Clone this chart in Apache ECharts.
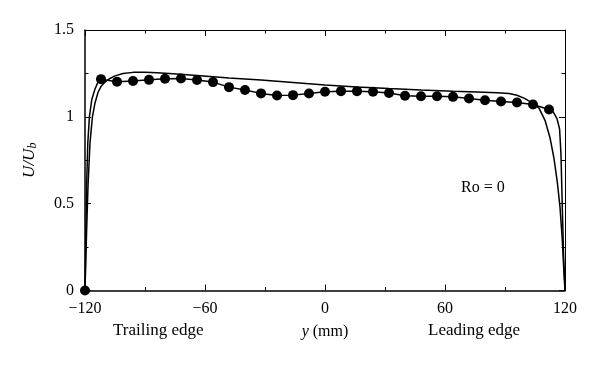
<!DOCTYPE html>
<html>
<head>
<meta charset="utf-8">
<script src="https://cdn.jsdelivr.net/npm/echarts@6/dist/echarts.min.js"></script>
<style>
  html, body {margin: 0; padding: 0; background: #fff;}
  #chart {width: 600px; height: 365px;}
</style>
</head>
<body>
<div id="chart"></div>
<script>
// measured points (markers), y in mm, U/Ub
const markerY = [-120, -112, -104, -96, -88, -80, -72, -64, -56, -48, -40, -32, -24, -16, -8,
    0, 8, 16, 24, 32, 40, 48, 56, 64, 72, 80, 88, 96, 104, 112];
const markerU = [0, 1.217, 1.202, 1.206, 1.213, 1.219, 1.221, 1.212, 1.200, 1.171, 1.154, 1.135, 1.123, 1.125, 1.134,
    1.144, 1.148, 1.148, 1.144, 1.137, 1.121, 1.119, 1.119, 1.115, 1.106, 1.096, 1.088, 1.083, 1.071, 1.042];

// near-wall parts of the line through the markers
const wallLeftY = [-119.6, -119.2, -118.6, -117.8, -116.6, -115, -113.5];
const wallLeftU = [0.3, 0.6, 0.85, 1.0, 1.1, 1.16, 1.2];
const wallRightY = [114, 116, 117.3, 118, 118.6, 119.3, 120];
const wallRightU = [1.03, 0.99, 0.93, 0.78, 0.5, 0.2, 0];

// smooth profile
const profY = [-120, -119.3, -118.5, -117.5, -116.3, -115, -113.5, -112, -110, -108, -105, -101, -96, -90, -84, -76,
    -64, -48, -32, -16, 0, 16, 32, 48, 64, 76, 86, 92, 96, 100, 104, 107, 110, 112.5, 114.5, 116.2, 117.5, 118.6, 119.4, 120];
const profU = [0, 0.3, 0.6, 0.85, 1.0, 1.08, 1.14, 1.175, 1.2, 1.218, 1.236, 1.249, 1.256, 1.257, 1.254, 1.248,
    1.238, 1.224, 1.212, 1.198, 1.184, 1.172, 1.163, 1.155, 1.148, 1.143, 1.139, 1.134, 1.124, 1.105, 1.078, 1.05, 0.98, 0.88, 0.76, 0.62, 0.48, 0.3, 0.12, 0];

const xTicks = [-120, -60, 0, 60, 120];
const yTicks = [0, 0.5, 1, 1.5];

const font = 'Liberation Serif';
const pair = (xs, ys) => xs.map((v, i) => [v, ys[i]]);

const lineData = [[markerY[0], markerU[0]]]
    .concat(pair(wallLeftY, wallLeftU))
    .concat(pair(markerY.slice(1), markerU.slice(1)))
    .concat(pair(wallRightY, wallRightU));

const chart = echarts.init(document.getElementById('chart'));

const tickStyle = {show: true, inside: true, length: 6, lineStyle: {color: '#000', width: 1}};
const minorStyle = {show: true, splitNumber: 2, length: 3.5, lineStyle: {color: '#000', width: 1}};

chart.setOption({
    animation: false,
    textStyle: {fontFamily: font},
    grid: {left: 85, right: 35, top: 30, bottom: 74.5},
    xAxis: [
        {
            type: 'value', min: xTicks[0], max: xTicks[xTicks.length - 1], interval: 60,
            axisLine: {onZero: false, lineStyle: {color: '#000', width: 1.5}},
            axisTick: tickStyle, minorTick: minorStyle,
            splitLine: {show: false},
            axisLabel: {
                color: '#000', fontSize: 16, fontFamily: font, margin: 10,
                formatter: v => String(v).replace('-', '\u2212')
            },
            name: '{i|y} (mm)', nameLocation: 'middle', nameGap: 33,
            nameTextStyle: {
                color: '#000', fontSize: 16, fontFamily: font,
                rich: {i: {fontStyle: 'italic', fontSize: 16, fontFamily: font, color: '#000'}}
            }
        },
        {
            type: 'value', position: 'top', min: xTicks[0], max: xTicks[xTicks.length - 1], interval: 60,
            axisLine: {show: true, onZero: false, lineStyle: {color: '#000', width: 1}},
            axisTick: tickStyle, minorTick: minorStyle,
            splitLine: {show: false}, axisLabel: {show: false}
        }
    ],
    yAxis: [
        {
            type: 'value', min: yTicks[0], max: yTicks[yTicks.length - 1], interval: 0.5,
            axisLine: {show: true, onZero: false, lineStyle: {color: '#000', width: 1.5}},
            axisTick: tickStyle, minorTick: minorStyle,
            splitLine: {show: false},
            axisLabel: {color: '#000', fontSize: 16, fontFamily: font, margin: 11},
            name: '{i|U/U}{s|b}', nameLocation: 'middle', nameGap: 46, nameRotate: 90,
            nameTextStyle: {
                rich: {
                    i: {fontStyle: 'italic', fontSize: 17, fontFamily: font, color: '#000'},
                    s: {fontStyle: 'italic', fontSize: 12, fontFamily: font, color: '#000', verticalAlign: 'bottom', padding: [6, 0, 0, 0]}
                }
            }
        },
        {
            type: 'value', position: 'right', min: yTicks[0], max: yTicks[yTicks.length - 1], interval: 0.5,
            axisLine: {show: true, onZero: false, lineStyle: {color: '#000', width: 1}},
            axisTick: tickStyle, minorTick: minorStyle,
            splitLine: {show: false}, axisLabel: {show: false}
        }
    ],
    graphic: [
        {type: 'text', left: 113, top: 322, style: {text: 'Trailing edge', font: '17px "Liberation Serif"', fill: '#000'}},
        {type: 'text', left: 428, top: 322, style: {text: 'Leading edge', font: '17px "Liberation Serif"', fill: '#000'}},
        {type: 'text', left: 461, top: 180, style: {text: 'Ro = 0', font: '16px "Liberation Serif"', fill: '#000'}}
    ],
    series: [
        {
            type: 'line', data: pair(profY, profU), showSymbol: false, symbol: 'none',
            lineStyle: {color: '#000', width: 1.5}, clip: false
        },
        {
            type: 'line', data: lineData, showSymbol: false, symbol: 'none',
            lineStyle: {color: '#000', width: 1.5}, clip: false
        },
        {
            type: 'scatter', data: pair(markerY, markerU), symbol: 'circle', symbolSize: 10,
            itemStyle: {color: '#000', opacity: 1}, clip: false
        }
    ]
});
</script>
</body>
</html>
